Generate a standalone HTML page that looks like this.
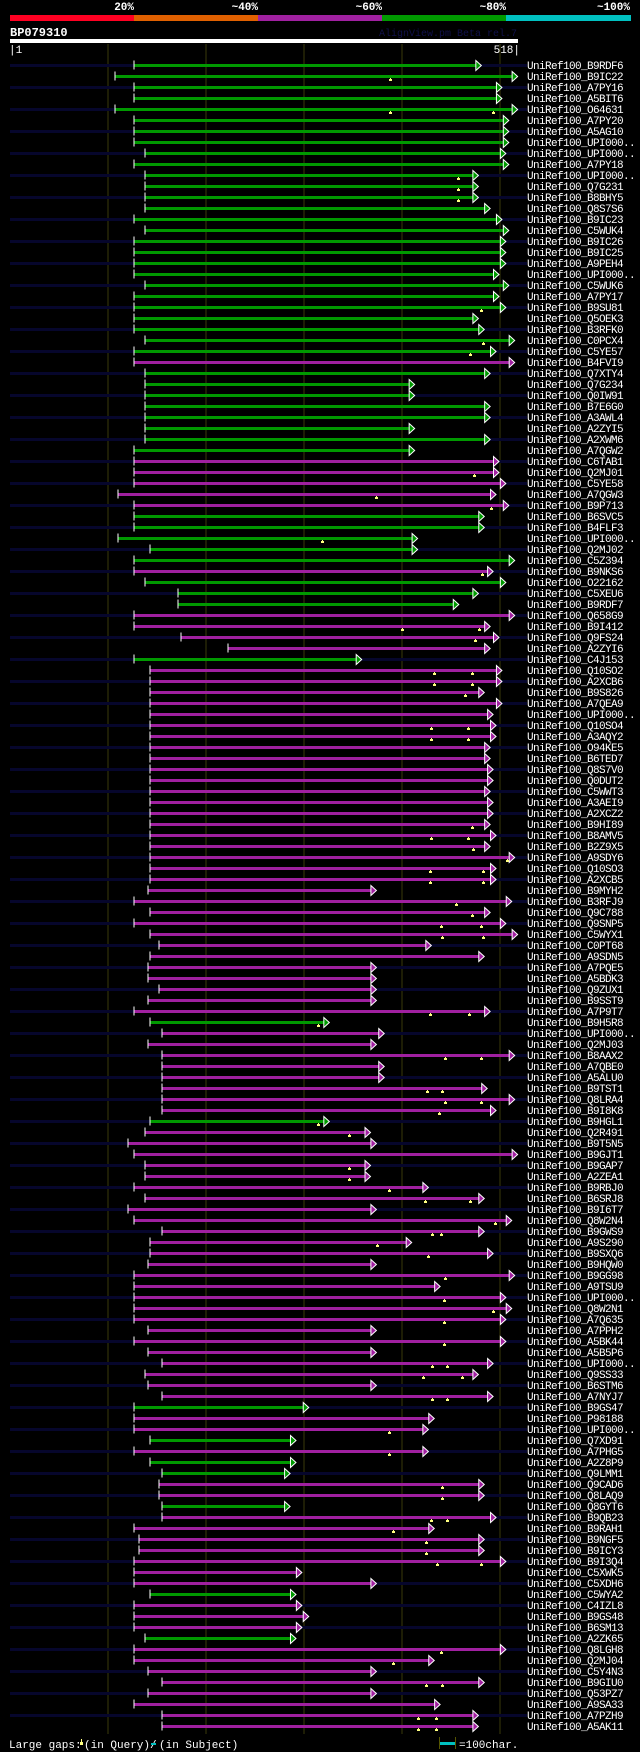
<!DOCTYPE html>
<html><head><meta charset="utf-8"><title>BP079310 alignment</title>
<style>
html,body{margin:0;padding:0;background:#000;}
svg{display:block;}
text{font-family:"Liberation Mono","DejaVu Sans Mono",monospace;}
</style></head>
<body>
<svg id="chart" width="640" height="1752" viewBox="0 0 640 1752" xmlns="http://www.w3.org/2000/svg">
<rect x="0" y="0" width="640" height="1752" fill="#000"/>
<g>
<rect x="10" y="15" width="124" height="6" fill="#ff0022"/>
<rect x="134" y="15" width="124" height="6" fill="#e06000"/>
<rect x="258" y="15" width="124" height="6" fill="#a020a0"/>
<rect x="382" y="15" width="124" height="6" fill="#009900"/>
<rect x="506" y="15" width="125" height="6" fill="#00c0c0"/>
<g font-size="11" font-weight="bold" fill="#fff" text-anchor="end">
<text x="134" y="10">20%</text>
<text x="258" y="10">~40%</text>
<text x="382" y="10">~60%</text>
<text x="506" y="10">~80%</text>
<text x="630" y="10">~100%</text>
</g></g>
<text x="10" y="36" font-size="12" font-weight="bold" fill="#fff">BP079310</text>
<text x="517" y="36" font-size="10" fill="#10104a" text-anchor="end">AlignView.pm Beta rel.7</text>
<rect x="10" y="39" width="508" height="4" fill="#fff"/>
<text x="9" y="53" font-size="11" fill="#fff">|1</text>
<text x="520" y="53" font-size="11" fill="#fff" text-anchor="end">518|</text>
<g id="grid"></g>
<g id="rows"></g>
<g font-size="11" fill="#fff">
<text x="9" y="1748">Large gaps:</text>
<rect x="81" y="1739" width="1" height="3" fill="#ffff80"/>
<rect x="80" y="1742" width="3" height="3" fill="#ffff80"/>
<text x="84" y="1748">(in Query)/</text>
<rect x="151" y="1743" width="5" height="2" fill="#00c0c0"/>
<text x="159" y="1748">(in Subject)</text>
<rect x="439" y="1737" width="1" height="12" fill="#555500"/>
<rect x="455" y="1737" width="1" height="12" fill="#555500"/>
<rect x="440" y="1742" width="15" height="3" fill="#00c0c0"/>
<text x="459" y="1748">=100char.</text>
</g>
</svg>
<script>
const QUERY_LEN = 518;
const tickResidues = [100, 200, 300, 400, 500];
const names = ["B9RDF6","B9IC22","A7PY16","A5BIT6","O64631","A7PY20","A5AG10","UPI000..","UPI000..","A7PY18","UPI000..","Q7G231","B8BHY5","Q8S7S6","B9IC23","C5WUK4","B9IC26","B9IC25","A9PEH4","UPI000..","C5WUK6","A7PY17","B9SU81","Q5OEK3","B3RFK0","C0PCX4","C5YE57","B4FVI9","Q7XTY4","Q7G234","Q0IW91","B7E6G0","A3AWL4","A2ZYI5","A2XWM6","A7QGW2","C6TAB1","Q2MJ01","C5YE58","A7QGW3","B9P713","B6SVC5","B4FLF3","UPI000..","Q2MJ02","C5Z394","B9NKS6","O22162","C5XEU6","B9RDF7","Q658G9","B9I412","Q9FS24","A2ZYI6","C4J153","Q10SO2","A2XCB6","B9S826","A7QEA9","UPI000..","Q10SO4","A3AQY2","O94KE5","B6TED7","Q8S7V0","Q0DUT2","C5WWT3","A3AEI9","A2XCZ2","B9HI89","B8AMV5","B2Z9X5","A9SDY6","Q10SO3","A2XCB5","B9MYH2","B3RFJ9","Q9C788","Q9SNP5","C5WYX1","C0PT68","A9SDN5","A7PQE5","A5BDK3","Q9ZUX1","B9SST9","A7P9T7","B9H5R8","UPI000..","Q2MJ03","B8AAX2","A7QBE0","A5ALU0","B9TST1","Q8LRA4","B9I8K8","B9HGL1","Q2R491","B9T5N5","B9GJT1","B9GAP7","A2ZEA1","B9RBJ0","B6SRJ8","B9I6T7","Q8W2N4","B9GWS9","A9S290","B9SXQ6","B9HQW0","B9GG98","A9TSU9","UPI000..","Q8W2N1","A7Q635","A7PPH2","A5BK44","A5B5P6","UPI000..","Q9SS33","B6STM6","A7NYJ7","B9GS47","P98188","UPI000..","Q7XD91","A7PHG5","A2Z8P9","Q9LMM1","Q9CAD6","Q8LAQ9","Q8GYT6","B9QB23","B9RAH1","B9NGF5","B9ICY3","B9I3Q4","C5XWK5","C5XDH6","C5WYA2","C4IZL8","B9GS48","B6SM13","A2ZK65","Q8LGH8","Q2MJ04","C5Y4N3","B9GIU0","Q53PZ7","A9SA33","A7PZH9","A5AK11"];
const starts = [126,107,126,126,107,126,126,126,138,126,138,138,138,138,126,138,126,126,126,126,138,126,126,126,126,138,126,126,138,138,138,138,138,138,138,126,126,126,126,110,126,126,126,110,143,126,126,138,171,171,126,126,174,222,126,143,143,143,143,143,143,143,143,143,143,143,143,143,143,143,143,143,143,143,143,141,126,143,
126,143,152,143,141,141,152,141,126,143,155,141,155,155,155,155,155,155,143,138,120,126,138,138,126,
138,120,126,155,143,143,141,126,126,126,126,126,141,126,141,155,138,141,155,126,126,126,143,126,143,
155,152,152,155,155,126,132,132,126,126,126,143,126,126,126,138,126,126,141,155,141,126,155,155];
const ends = [475,512,496,496,512,503,503,503,500,503,472,472,472,484,496,503,500,500,500,493,503,493,500,472,478,509,490,509,484,407,407,484,484,407,484,407,493,493,500,
490,503,478,478,410,410,509,487,500,472,452,509,484,493,484,353,496,496,478,496,487,490,490,484,484,487,487,484,487,487,484,490,484,509,490,490,368,506,484,
500,512,424,478,368,368,368,368,484,320,376,368,509,376,376,481,509,490,320,362,368,512,362,362,421,
478,368,506,478,404,487,368,509,433,500,506,500,368,500,368,487,472,368,487,299,427,421,286,421,286,
280,478,478,280,490,427,478,478,500,292,368,286,292,299,292,286,500,427,368,478,368,433,472,472];
const greenRows = [1,2,3,4,5,6,7,8,9,10,11,12,13,14,15,16,17,18,19,20,21,22,23,24,25,26,27,29,30,31,32,33,34,35,36,42,43,44,45,46,48,49,50,55,88,97,123,126,128,129,132,140,144];
const gapRows = [2,5,11,12,13,23,26,27,38,40,41,44,47,52,53,56,57,58,61,62,70,71,72,73,74,75,77,78,79,80,87,88,91,94,95,96,97,98,101,102,103,104,106,107,108,109,111,113,114,115,117,119,120,122,125,127,130,131,133,134,135,136,137,145,146,148,151,152];
const gapPos = [[387],[387,493],[457],[457],[457],[480],[482],[469],[473],[373],[490],[318],[481],[400,478],[474],[432,471],[432,471],[464],[429,467],[429,467],[471],[429,467],[472],[507],[428,482],[428,482],[455],[471],[439,480],[441,482],[428,468],[314],[444,480],[425,440],[444,480],[437],[314],[346],[346],[346],[386],[423,469],[495],[430,439],[374],[426],[444],[443],[492],[443],[443],[430,446],[421,461],[430,446],[386],[386],[441],[441],[429,446],[391],[424],[424],[435,480],[439],[391],[424,441],[416,434],[416,434]];

const NS = "http://www.w3.org/2000/svg";
const X0 = 10, XW = 508, ROW0 = 64, ROWH = 11;
function xScale(r){ return X0 + r / QUERY_LEN * XW; }
function rowTop(i){ return ROW0 + i * ROWH; }
function mk(tag, attrs, parent){
  const el = document.createElementNS(NS, tag);
  for (const k in attrs) el.setAttribute(k, attrs[k]);
  parent.appendChild(el);
  return el;
}
const grid = document.getElementById('grid');


tickResidues.forEach(function(t){
  const gl = mk('rect', {x: Math.round(xScale(t)) - 0.5, y: 44, width: 1, height: 1690, fill: '#3a3a0a'}, grid);
  
  
});
const rowsG = document.getElementById('rows');
names.forEach(function(nm, i){
  const g = mk('g', {}, rowsG);
  
  
  const y = rowTop(i);
  const col = greenRows.indexOf(i + 1) >= 0 ? '#009900' : '#a020a0';
  if (i % 2 === 0) {
    const st = mk('rect', {x: 10, y: y, width: 517, height: 3, fill: '#06062c'}, g);
    
    
  }
  const xs = xScale(starts[i]), xe = xScale(ends[i]);
  const bar = mk('rect', {x: xs, y: y, width: Math.max(0, xe - xs), height: 3, fill: col}, g);
  
  
  const tick = mk('rect', {x: Math.round(xs) - 0.5, y: y - 3.5, width: 1, height: 9, fill: '#fff'}, g);
  
  
  const ay = y + 1.5;
  const arr = mk('polygon', {points: xe + ',' + (ay - 5) + ' ' + (xe + 5.5) + ',' + ay + ' ' + xe + ',' + (ay + 5), fill: col, stroke: '#fff', 'stroke-width': 1}, g);
  
  
  const gi = gapRows.indexOf(i + 1);
  if (gi >= 0) {
    gapPos[gi].forEach(function(p){
      const gx = Math.round(xScale(p));
      const s1 = mk('rect', {x: gx, y: y + 3, width: 1, height: 2, fill: '#ffff80'}, g);
      
      
      const s2 = mk('rect', {x: gx - 1, y: y + 4, width: 3, height: 2, fill: '#ffff80'}, g);
      
      
    });
  }
  const t = mk('text', {x: 527, y: y + 5, 'font-size': 11, fill: '#fff', 'letter-spacing': '-0.6'}, g);
  
  
  t.textContent = 'UniRef100_' + nm;
});
</script>
</body></html>
